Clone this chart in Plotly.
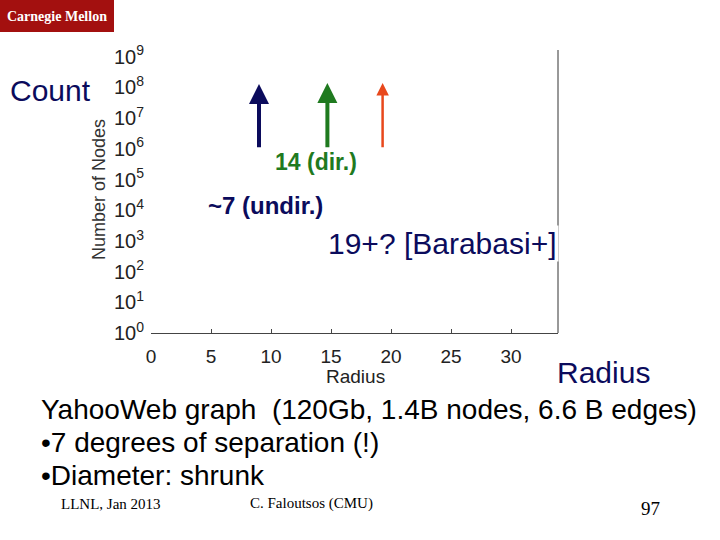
import math
import plotly.graph_objects as go

# ---- data ----
x_ticks = [0, 5, 10, 15, 20, 25, 30]
y_exponents = [0, 1, 2, 3, 4, 5, 6, 7, 8, 9]
y_tick_vals = [10 ** e for e in y_exponents]
y_tick_text = ["10<sup>%d</sup>" % e for e in y_exponents]

arrow_radius = [9.0, 14.7, 19.3]
arrow_base = [1e6, 1e6, 1e6]
arrow_tip = [1.3e8, 1.4e8, 1.4e8]
arrow_colors = ["#0b0b5c", "#1f7a1f", "#e8481c"]
arrow_widths = [4, 4, 2.5]

W, H = 720, 540
L, R, T, B = 151, 558, 50, 333


def px(xp):
    return (xp - L) / (R - L)


def py(yp):
    return (B - yp) / (B - T)


fig = go.Figure()
fig.add_trace(go.Scatter(x=[0], y=[1], mode="markers", marker=dict(opacity=0),
                         showlegend=False, hoverinfo="skip"))

annotations = []
for xr, yb, yt, c, w in zip(arrow_radius, arrow_base, arrow_tip, arrow_colors, arrow_widths):
    annotations.append(dict(
        x=xr, y=math.log10(yt), ax=xr, ay=math.log10(yb),
        xref="x", yref="y", axref="x", ayref="y",
        showarrow=True, arrowhead=2, arrowsize=1.0, arrowwidth=w,
        arrowcolor=c, text=""))

navy = "#0b0b5c"
green = "#1f7a1f"
sans = "Liberation Sans, Arial, sans-serif"
serif = "Liberation Serif, Times New Roman, serif"


def txt(t, x, y, size, color, family=sans, xanchor="left", bold=False, bg=None, angle=0):
    d = dict(text=("<b>%s</b>" % t) if bold else t, x=px(x), y=py(y),
             xref="paper", yref="paper", showarrow=False,
             xanchor=xanchor, yanchor="middle",
             font=dict(size=size, color=color, family=family), textangle=angle)
    if bg:
        d["bgcolor"] = bg
    return d


annotations += [
    txt("Count", 8, 90, 30, navy),
    txt("14 (dir.)", 273, 162, 23, green, bold=True),
    txt("~7 (undir.)", 206, 205, 24, navy, bold=True),
    txt("19+? [Barabasi+]", 326, 243, 30, navy, bg="white"),
    txt("Radius", 555, 372, 30, navy),
    txt("Number of Nodes", 99, 190, 18, "#333333", xanchor="center", angle=-90),
    txt("Radius", 355, 376, 19, "#222222", xanchor="center"),
    txt("YahooWeb graph  (120Gb, 1.4B nodes, 6.6 B edges)", 39, 409, 28, "#000000"),
    txt("•7 degrees of separation (!)", 39, 442, 28, "#000000"),
    txt("•Diameter: shrunk", 39, 475, 28, "#000000"),
    txt("LLNL, Jan 2013", 59, 504, 15, "#000000", family=serif),
    txt("C. Faloutsos (CMU)", 311, 504, 15, "#000000", family=serif, xanchor="center"),
    txt("97", 650, 508, 19, "#000000", family=serif, xanchor="center"),
    txt("Carnegie Mellon", 57, 16, 14, "#ffffff", family=serif, xanchor="center", bold=True),
]

shapes = [
    dict(type="rect", xref="paper", yref="paper", x0=px(0), x1=px(114), y0=py(32), y1=py(0),
         fillcolor="#A3100F", line=dict(width=0), layer="below"),
    dict(type="line", xref="paper", yref="paper", x0=1, x1=1, y0=0, y1=1,
         line=dict(color="#333333", width=1), layer="below"),
]

fig.update_layout(
    width=W, height=H, autosize=False,
    margin=dict(l=L, r=W - R, t=T, b=H - B, pad=0),
    paper_bgcolor="white", plot_bgcolor="white",
    showlegend=False,
    annotations=annotations, shapes=shapes,
    xaxis=dict(range=[0, (R - L) / 12.0], tickvals=x_ticks, ticks="inside", ticklen=4,
               tickcolor="#444444", showline=True, linecolor="#444444", linewidth=1,
               showgrid=False, zeroline=False,
               tickfont=dict(size=19, color="#222222", family=sans),
               ticklabelstandoff=6),
    yaxis=dict(type="log", range=[0, (B - T) / 30.7], tickvals=y_tick_vals, ticktext=y_tick_text,
               ticks="", showline=False, showgrid=False, zeroline=False,
               tickfont=dict(size=20, color="#222222", family=sans),
               ticklabelstandoff=6),
)

fig.write_html("out.html", config={"displayModeBar": False},
               post_script="document.body.style.margin='0';")
